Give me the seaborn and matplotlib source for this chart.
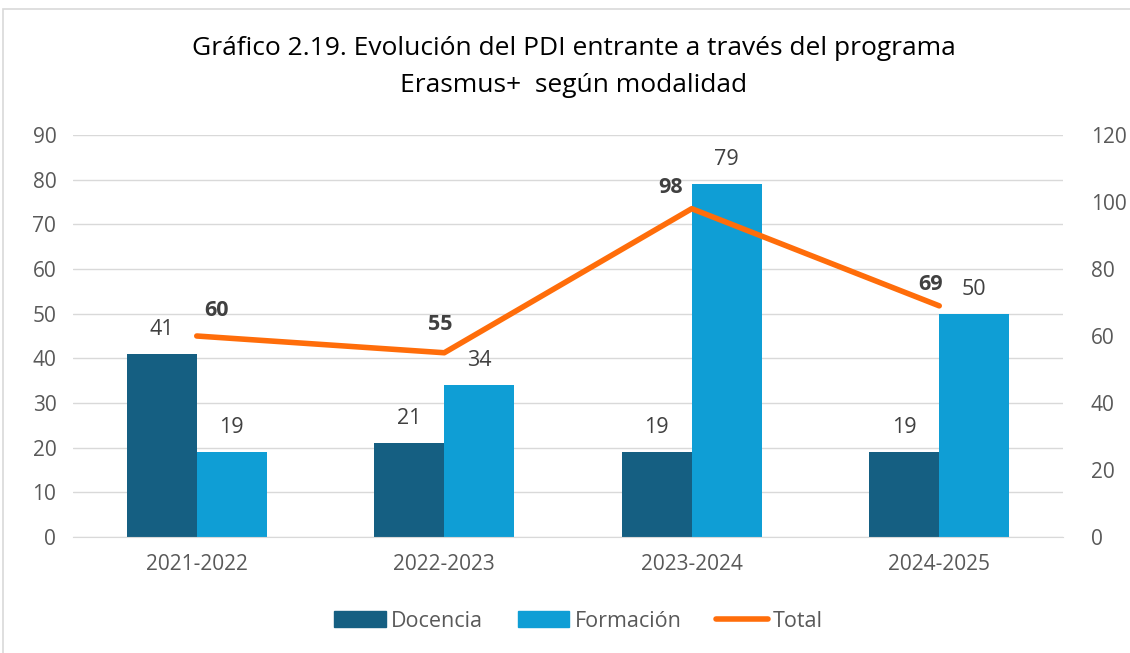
import pandas as pd
import numpy as np
import seaborn as sns
import matplotlib.pyplot as plt
from matplotlib.patches import Rectangle
from matplotlib.lines import Line2D

cursos = ['2021-2022', '2022-2023', '2023-2024', '2024-2025']
docencia = [41, 21, 19, 19]
formacion = [19, 34, 79, 50]
total = [60, 55, 98, 69]

c_doc = '#155F82'
c_for = '#0F9ED5'
c_tot = '#FF6D0A'
gris = '#595959'

sns.set_style('white')
plt.rcParams['font.family'] = ['Open Sans', 'DejaVu Sans']

df = pd.DataFrame({
    'curso': cursos * 2,
    'valor': docencia + formacion,
    'modalidad': ['Docencia'] * 4 + ['Formación'] * 4,
})

fig = plt.figure(figsize=(11.3, 6.53), dpi=100)
ax = fig.add_axes([0.0646, 0.1776, 0.8761, 0.6157])

sns.barplot(data=df, x='curso', y='valor', hue='modalidad',
            palette=[c_doc, c_for], width=0.566, saturation=1,
            linewidth=0, ax=ax, legend=False)
ax.set_ylim(0, 90)
ax.set_yticks(range(0, 91, 10))
ax.set_xlim(-0.5, 3.5)
ax.grid(axis='y', color='#D9D9D9', linewidth=1)
ax.set_axisbelow(True)
for s in ['top', 'right', 'left']:
    ax.spines[s].set_visible(False)
ax.spines['bottom'].set_color('#D9D9D9')
ax.set_xlabel('')
ax.set_ylabel('')
ax.tick_params(axis='both', length=0, labelsize=15, colors=gris, pad=12)
for cont in ax.containers:
    ax.bar_label(cont, padding=10, fontsize=15.5, color='#404040')

ax2 = ax.twinx()
sns.lineplot(x=np.arange(len(cursos)), y=total, color=c_tot, linewidth=4,
             ax=ax2, solid_capstyle='round')
ax2.set_ylim(0, 120)
ax2.set_yticks(range(0, 121, 20))
ax2.set_xlim(-0.5, 3.5)
for s in ax2.spines.values():
    s.set_visible(False)
ax2.tick_params(axis='y', length=0, labelsize=15, colors=gris, pad=20)
offs = [(14, 11), (-3, 13), (-15, 8), (-6, 8)]
for i, v in enumerate(total):
    ax2.annotate(str(v), (i, v), xytext=offs[i], textcoords='offset points',
                 ha='center', va='bottom', fontsize=15.5, fontweight='bold',
                 color='#404040')

fig.text(0.508, 0.926, 'Gráfico 2.19. Evolución del PDI entrante a través del programa',
         ha='center', va='center', fontsize=19, color='#000000')
fig.text(0.508, 0.869, 'Erasmus+  según modalidad',
         ha='center', va='center', fontsize=19, color='#000000')

handles = [Rectangle((0, 0), 1, 1, color=c_doc),
           Rectangle((0, 0), 1, 1, color=c_for),
           Line2D([0], [0], color=c_tot, linewidth=4, solid_capstyle='round')]
fig.legend(handles, ['Docencia', 'Formación', 'Total'], loc='center',
           bbox_to_anchor=(0.512, 0.049), ncol=3, frameon=False,
           fontsize=15.5, labelcolor=gris, handlelength=2.4, handleheight=0.8,
           columnspacing=1.6, handletextpad=0.25)

fig.patches.append(Rectangle((3 / 1130, -0.01), 1.0, 1 - 9 / 653 + 0.01,
                             transform=fig.transFigure, fill=False,
                             edgecolor='#D9D9D9', linewidth=1.2))

plt.savefig('out.png')
